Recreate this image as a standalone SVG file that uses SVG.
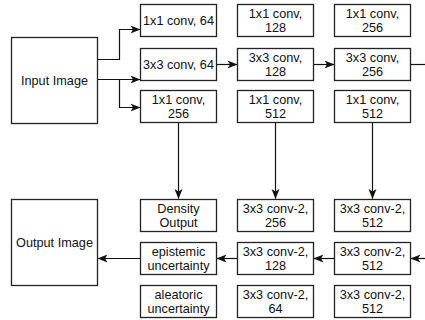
<svg xmlns="http://www.w3.org/2000/svg" width="425" height="320" viewBox="0 0 425 320">
<style>
  .box { fill: #ffffff; stroke: #222222; stroke-width: 1.3; }
  .t { font-family: "Liberation Sans", Arial, sans-serif; font-size: 12.7px; fill: #111111; text-anchor: middle; }
  .c { fill: none; stroke: #111111; stroke-width: 1.2; }
  .ca { fill: none; stroke: #111111; stroke-width: 1.2; marker-end: url(#ah); }
</style>
<defs>
  <marker id="ah" markerUnits="userSpaceOnUse" markerWidth="10" markerHeight="10" viewBox="0 0 10 10" refX="9.5" refY="5" orient="auto">
    <path d="M0,1 L10,5 L0,9 L2.5,5 Z" fill="#111111"/>
  </marker>
</defs>
<rect width="425" height="320" fill="#ffffff"/>

<g id="connectors">
  <path class="ca" d="M97.5,59.5 H119.5 V29.5 H140"/>
  <path class="ca" d="M97.5,79.5 H140"/>
  <path class="ca" d="M119.5,79.5 V107.5 H140"/>
  <path class="ca" d="M216.5,64.5 H237"/>
  <path class="ca" d="M313.5,64.5 H334"/>
  <path class="c" d="M410.5,64.5 H425"/>
  <path class="ca" d="M178.5,122.5 V198.5"/>
  <path class="ca" d="M275.5,122.5 V198.5"/>
  <path class="ca" d="M372.5,122.5 V198.5"/>
  <path class="ca" d="M425,258.5 H411"/>
  <path class="ca" d="M334.5,258.5 H314"/>
  <path class="ca" d="M237.5,258.5 H217"/>
  <path class="ca" d="M140.5,258.5 H98"/>
</g>

<g id="input-image">
  <rect class="box" x="11.5" y="37.5" width="86" height="86"/>
  <text class="t" x="54.5" y="84.5">Input Image</text>
</g>
<g id="output-image">
  <rect class="box" x="11.5" y="199.5" width="86" height="86"/>
  <text class="t" x="54.5" y="246.5">Output Image</text>
</g>

<g id="c1r1">
  <rect class="box" x="140.5" y="4.5" width="76" height="32"/>
  <text class="t" x="178.5" y="25">1x1 conv, 64</text>
</g>
<g id="c1r2">
  <rect class="box" x="140.5" y="48.5" width="76" height="32"/>
  <text class="t" x="178.5" y="69">3x3 conv, 64</text>
</g>
<g id="c1r3">
  <rect class="box" x="140.5" y="90.5" width="76" height="32"/>
  <text class="t" x="178.5" y="104">1x1 conv,</text>
  <text class="t" x="178.5" y="118">256</text>
</g>

<g id="c2r1">
  <rect class="box" x="237.5" y="4.5" width="76" height="32"/>
  <text class="t" x="275.5" y="18">1x1 conv,</text>
  <text class="t" x="275.5" y="32">128</text>
</g>
<g id="c2r2">
  <rect class="box" x="237.5" y="48.5" width="76" height="32"/>
  <text class="t" x="275.5" y="62">3x3 conv,</text>
  <text class="t" x="275.5" y="76">128</text>
</g>
<g id="c2r3">
  <rect class="box" x="237.5" y="90.5" width="76" height="32"/>
  <text class="t" x="275.5" y="104">1x1 conv,</text>
  <text class="t" x="275.5" y="118">512</text>
</g>

<g id="c3r1">
  <rect class="box" x="334.5" y="4.5" width="76" height="32"/>
  <text class="t" x="372.5" y="18">1x1 conv,</text>
  <text class="t" x="372.5" y="32">256</text>
</g>
<g id="c3r2">
  <rect class="box" x="334.5" y="48.5" width="76" height="32"/>
  <text class="t" x="372.5" y="62">3x3 conv,</text>
  <text class="t" x="372.5" y="76">256</text>
</g>
<g id="c3r3">
  <rect class="box" x="334.5" y="90.5" width="76" height="32"/>
  <text class="t" x="372.5" y="104">1x1 conv,</text>
  <text class="t" x="372.5" y="118">512</text>
</g>

<g id="density-output">
  <rect class="box" x="140.5" y="199.5" width="76" height="32"/>
  <text class="t" x="178.5" y="213">Density</text>
  <text class="t" x="178.5" y="227">Output</text>
</g>
<g id="epistemic">
  <rect class="box" x="140.5" y="242.5" width="76" height="32"/>
  <text class="t" x="178.5" y="256">epistemic</text>
  <text class="t" x="178.5" y="270">uncertainty</text>
</g>
<g id="aleatoric">
  <rect class="box" x="140.5" y="285.5" width="76" height="32"/>
  <text class="t" x="178.5" y="299">aleatoric</text>
  <text class="t" x="178.5" y="313">uncertainty</text>
</g>

<g id="d2r1">
  <rect class="box" x="237.5" y="199.5" width="76" height="32"/>
  <text class="t" x="275.5" y="213">3x3 conv-2,</text>
  <text class="t" x="275.5" y="227">256</text>
</g>
<g id="d2r2">
  <rect class="box" x="237.5" y="242.5" width="76" height="32"/>
  <text class="t" x="275.5" y="256">3x3 conv-2,</text>
  <text class="t" x="275.5" y="270">128</text>
</g>
<g id="d2r3">
  <rect class="box" x="237.5" y="285.5" width="76" height="32"/>
  <text class="t" x="275.5" y="299">3x3 conv-2,</text>
  <text class="t" x="275.5" y="313">64</text>
</g>

<g id="d3r1">
  <rect class="box" x="334.5" y="199.5" width="76" height="32"/>
  <text class="t" x="372.5" y="213">3x3 conv-2,</text>
  <text class="t" x="372.5" y="227">512</text>
</g>
<g id="d3r2">
  <rect class="box" x="334.5" y="242.5" width="76" height="32"/>
  <text class="t" x="372.5" y="256">3x3 conv-2,</text>
  <text class="t" x="372.5" y="270">512</text>
</g>
<g id="d3r3">
  <rect class="box" x="334.5" y="285.5" width="76" height="32"/>
  <text class="t" x="372.5" y="299">3x3 conv-2,</text>
  <text class="t" x="372.5" y="313">512</text>
</g>
</svg>
